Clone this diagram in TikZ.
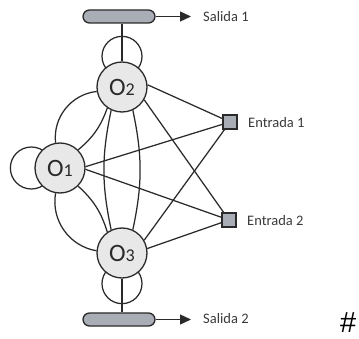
\documentclass[tikz,border=0pt]{standalone}
\usepackage{fontspec}
\newfontfamily\labelfont{Carlito}
\newfontfamily\markfont{Liberation Sans}
\usetikzlibrary{arrows.meta,backgrounds}
\definecolor{edgegray}{HTML}{2A2A2A}
\definecolor{nodefill}{HTML}{E8E8E8}
\definecolor{portfill}{HTML}{A9AEB6}
\definecolor{textgray}{HTML}{3A3A3A}
\newcommand{\olabel}[1]{{\fontsize{25}{25}\selectfont O}{\fontsize{18}{18}\selectfont #1}}
\begin{document}
\begin{tikzpicture}[x=1pt,y=-1pt,
  neuron/.style={circle, draw=edgegray, fill=nodefill, line width=1.3pt,
    minimum size=50pt, inner sep=0pt, text=edgegray, font=\labelfont},
  port/.style={rectangle, draw=edgegray, fill=portfill, line width=1.3pt,
    minimum size=14pt, inner sep=0pt},
  outbar/.style={rectangle, rounded corners=6.5pt, draw=edgegray, fill=portfill,
    line width=1.3pt, minimum width=72pt, minimum height=13pt, inner sep=0pt},
  link/.style={draw=edgegray, line width=1.25pt},
  outarrow/.style={link, -{Triangle[length=11pt,width=10pt]}},
  lbl/.style={font=\labelfont\fontsize{14.5}{14.5}\selectfont, text=textgray,
    anchor=west, inner sep=0pt}]
\useasboundingbox (0,0) rectangle (359,339);

% units
\node[neuron] (O1) at (60,168) {\olabel{1}};
\node[neuron] (O2) at (122,87) {\olabel{2}};
\node[neuron] (O3) at (122,253) {\olabel{3}};

% inputs
\node[port] (e1) at (230,122) {};
\node[port] (e2) at (229,220) {};
\node[lbl] (le1) at (248,123) {Entrada 1};
\node[lbl] (le2) at (247,221) {Entrada 2};

% outputs
\node[outbar] (b1) at (119,16.5) {};
\node[outbar] (b2) at (119,319.5) {};
\coordinate (s1) at (191,16.5);
\coordinate (s2) at (191,319.5);
\node[lbl] (ls1) at (203,17) {Salida 1};
\node[lbl] (ls2) at (203,319) {Salida 2};
\draw[outarrow] (b1.east) -- (s1);
\draw[outarrow] (b2.east) -- (s2);

\begin{scope}[on background layer]
  % self loops
  \draw[link] ([xshift=-3pt]O1.west) circle (21pt);
  \draw[link] ([yshift=5pt]O2.north) circle (20pt);
  \draw[link] ([yshift=-5pt]O3.south) circle (20pt);
  % output taps
  \draw[link] (O2.north) -- (O2.north |- b1.south);
  \draw[link] (O3.south) -- (O3.south |- b2.north);
\end{scope}

% recurrent connections
\draw[link] (O1.100) to[bend left=45] (O2.190);
\draw[link] (O1.45) to[bend right=15] (O2.235);
\draw[link] (O1.260) to[bend right=45] (O3.175);
\draw[link] (O1.-45) to[bend left=15] (O3.125);
\draw[link] (O2.-115) to[bend right=12] (O3.115);
\draw[link] (O2.-65) to[bend left=12] (O3.65);

% input connections
\draw[link] (O2.5) -- (e1);
\draw[link] (O2.-30) -- (e2);
\draw[link] (O1.3) -- (e1);
\draw[link] (O1.-3) -- (e2);
\draw[link] (O3.30) -- (e1);
\draw[link] (O3.10) -- (e2);

\node[anchor=base west, inner sep=0pt, text=black,
  font=\markfont\fontsize{29}{29}\selectfont] (hash) at (340,332) {\#};
\end{tikzpicture}
\end{document}
